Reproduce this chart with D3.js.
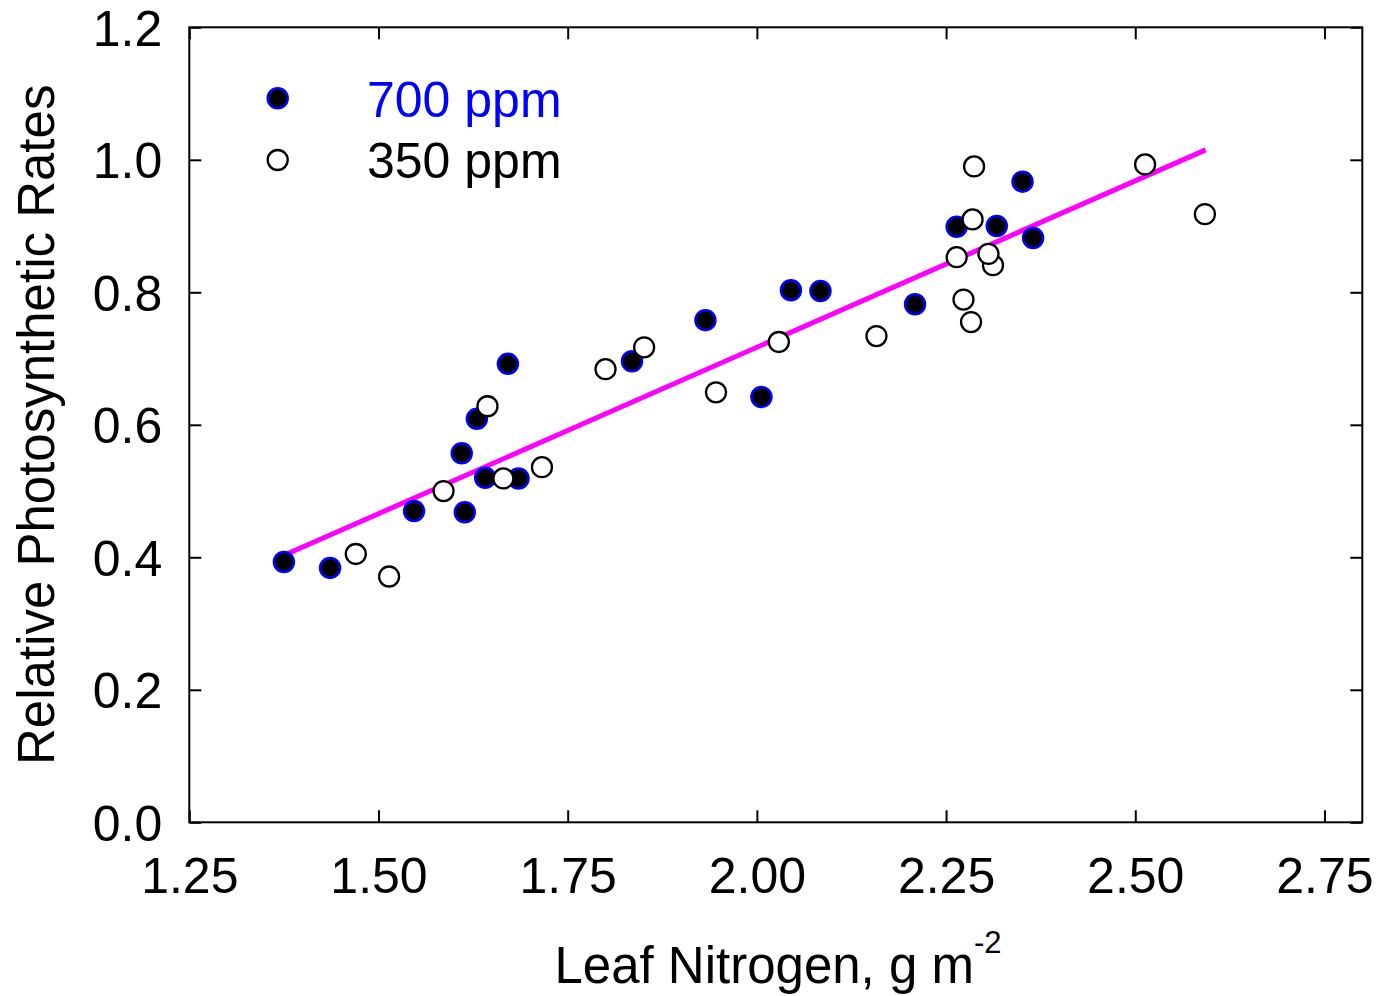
<!DOCTYPE html>
<html>
<head>
<meta charset="utf-8">
<script src="https://cdn.jsdelivr.net/npm/d3@7/dist/d3.min.js"></script>
<style>
  html, body { margin: 0; padding: 0; background: #fff; }
  svg text { font-family: "Liberation Sans", Arial, sans-serif; }
</style>
</head>
<body>
<svg id="chart" width="1378" height="996"></svg>
<script>
// ---- data ----
const n700 = [1.375, 1.436, 1.547, 1.610, 1.614, 1.630, 1.641, 1.671, 1.685, 1.835, 1.932, 2.006, 2.045, 2.084, 2.209, 2.264, 2.317, 2.351, 2.365];
const r700 = [0.393, 0.384, 0.470, 0.557, 0.468, 0.609, 0.520, 0.692, 0.519, 0.696, 0.758, 0.642, 0.803, 0.802, 0.782, 0.899, 0.900, 0.967, 0.882];

const n350 = [1.470, 1.514, 1.586, 1.644, 1.665, 1.716, 1.800, 1.851, 1.946, 2.029, 2.158, 2.264, 2.273, 2.283, 2.285, 2.287, 2.312, 2.306, 2.513, 2.592];
const r350 = [0.405, 0.371, 0.500, 0.628, 0.519, 0.536, 0.684, 0.717, 0.649, 0.725, 0.734, 0.853, 0.789, 0.755, 0.910, 0.990, 0.841, 0.858, 0.993, 0.918];

const fitX = [1.379, 2.593];
const fitY = [0.405, 1.015];

const xTicks = [1.25, 1.50, 1.75, 2.00, 2.25, 2.50, 2.75];
const yTicks = [0.0, 0.2, 0.4, 0.6, 0.8, 1.0, 1.2];
const legendLabels = ["700 ppm", "350 ppm"];

// ---- layout ----
const L = 189.3, T = 27.3, W = 1173, H = 795;
const svg = d3.select("#chart");
const x = d3.scaleLinear().domain([1.25, 2.8]).range([L, L + W]);
const y = d3.scaleLinear().domain([0, 1.2]).range([T + H, T]);
const FS = 50;
const tickLen = 12;

// axes (inward ticks)
const gB = svg.append("g").attr("transform", `translate(0,${T + H})`)
  .call(d3.axisBottom(x).tickValues(xTicks).tickSizeInner(-tickLen).tickSizeOuter(0).tickPadding(35).tickFormat(d3.format(".2f")));
const gT = svg.append("g").attr("transform", `translate(0,${T})`)
  .call(d3.axisTop(x).tickValues(xTicks).tickSizeInner(-tickLen).tickSizeOuter(0).tickFormat(""));
const gL = svg.append("g").attr("transform", `translate(${L},0)`)
  .call(d3.axisLeft(y).tickValues(yTicks).tickSizeInner(-tickLen).tickSizeOuter(0).tickPadding(27).tickFormat(d3.format(".1f")));
const gR = svg.append("g").attr("transform", `translate(${L + W},0)`)
  .call(d3.axisRight(y).tickValues(yTicks).tickSizeInner(-tickLen).tickSizeOuter(0).tickFormat(""));

[gB, gT, gL, gR].forEach(g => {
  g.select(".domain").remove();
  g.selectAll(".tick line").attr("stroke", "#000").attr("stroke-width", 2);
  g.selectAll(".tick text").attr("fill", "#000").attr("font-size", FS)
    .style("font-family", '"Liberation Sans", Arial, sans-serif');
});
gB.selectAll(".tick text").attr("dy", "0.71em");
gL.selectAll(".tick text").attr("dy", "0.36em");

// frame
svg.append("rect").attr("x", L).attr("y", T).attr("width", W).attr("height", H)
  .attr("fill", "none").attr("stroke", "#000").attr("stroke-width", 2);

// regression line
svg.append("path")
  .datum(fitX.map((d, i) => [d, fitY[i]]))
  .attr("d", d3.line().x(d => x(d[0])).y(d => y(d[1])))
  .attr("fill", "none").attr("stroke", "#ff00ff").attr("stroke-width", 5);

// points
const R = 10;
svg.append("g").selectAll("circle")
  .data(n700.map((d, i) => [d, r700[i]]))
  .join("circle")
  .attr("cx", d => x(d[0])).attr("cy", d => y(d[1])).attr("r", R)
  .attr("fill", "#000").attr("stroke", "#0000ff").attr("stroke-width", 2.5);

svg.append("g").selectAll("circle")
  .data(n350.map((d, i) => [d, r350[i]]))
  .join("circle")
  .attr("cx", d => x(d[0])).attr("cy", d => y(d[1])).attr("r", R)
  .attr("fill", "#fff").attr("stroke", "#000").attr("stroke-width", 2.3);

// legend
const lg = svg.append("g");
lg.append("circle").attr("cx", 277.7).attr("cy", 98.3).attr("r", R)
  .attr("fill", "#000").attr("stroke", "#0000ff").attr("stroke-width", 2.5);
lg.append("circle").attr("cx", 277.7).attr("cy", 160).attr("r", R)
  .attr("fill", "#fff").attr("stroke", "#000").attr("stroke-width", 2.3);
lg.append("text").attr("x", 367).attr("y", 117).attr("font-size", 50).attr("fill", "#0000ff").text(legendLabels[0]);
lg.append("text").attr("x", 367).attr("y", 178).attr("font-size", 50).attr("fill", "#000").text(legendLabels[1]);

// axis titles
const xt = svg.append("text").attr("x", 778).attr("y", 983).attr("text-anchor", "middle")
  .attr("font-size", 51).attr("fill", "#000");
xt.append("tspan").text("Leaf Nitrogen, g m");
xt.append("tspan").attr("font-size", 31).attr("dy", -30).text("-2");

svg.append("text")
  .attr("transform", `translate(54,${T + H / 2}) rotate(-90)`)
  .attr("text-anchor", "middle").attr("font-size", 51).attr("fill", "#000")
  .text("Relative Photosynthetic Rates");
</script>
</body>
</html>
